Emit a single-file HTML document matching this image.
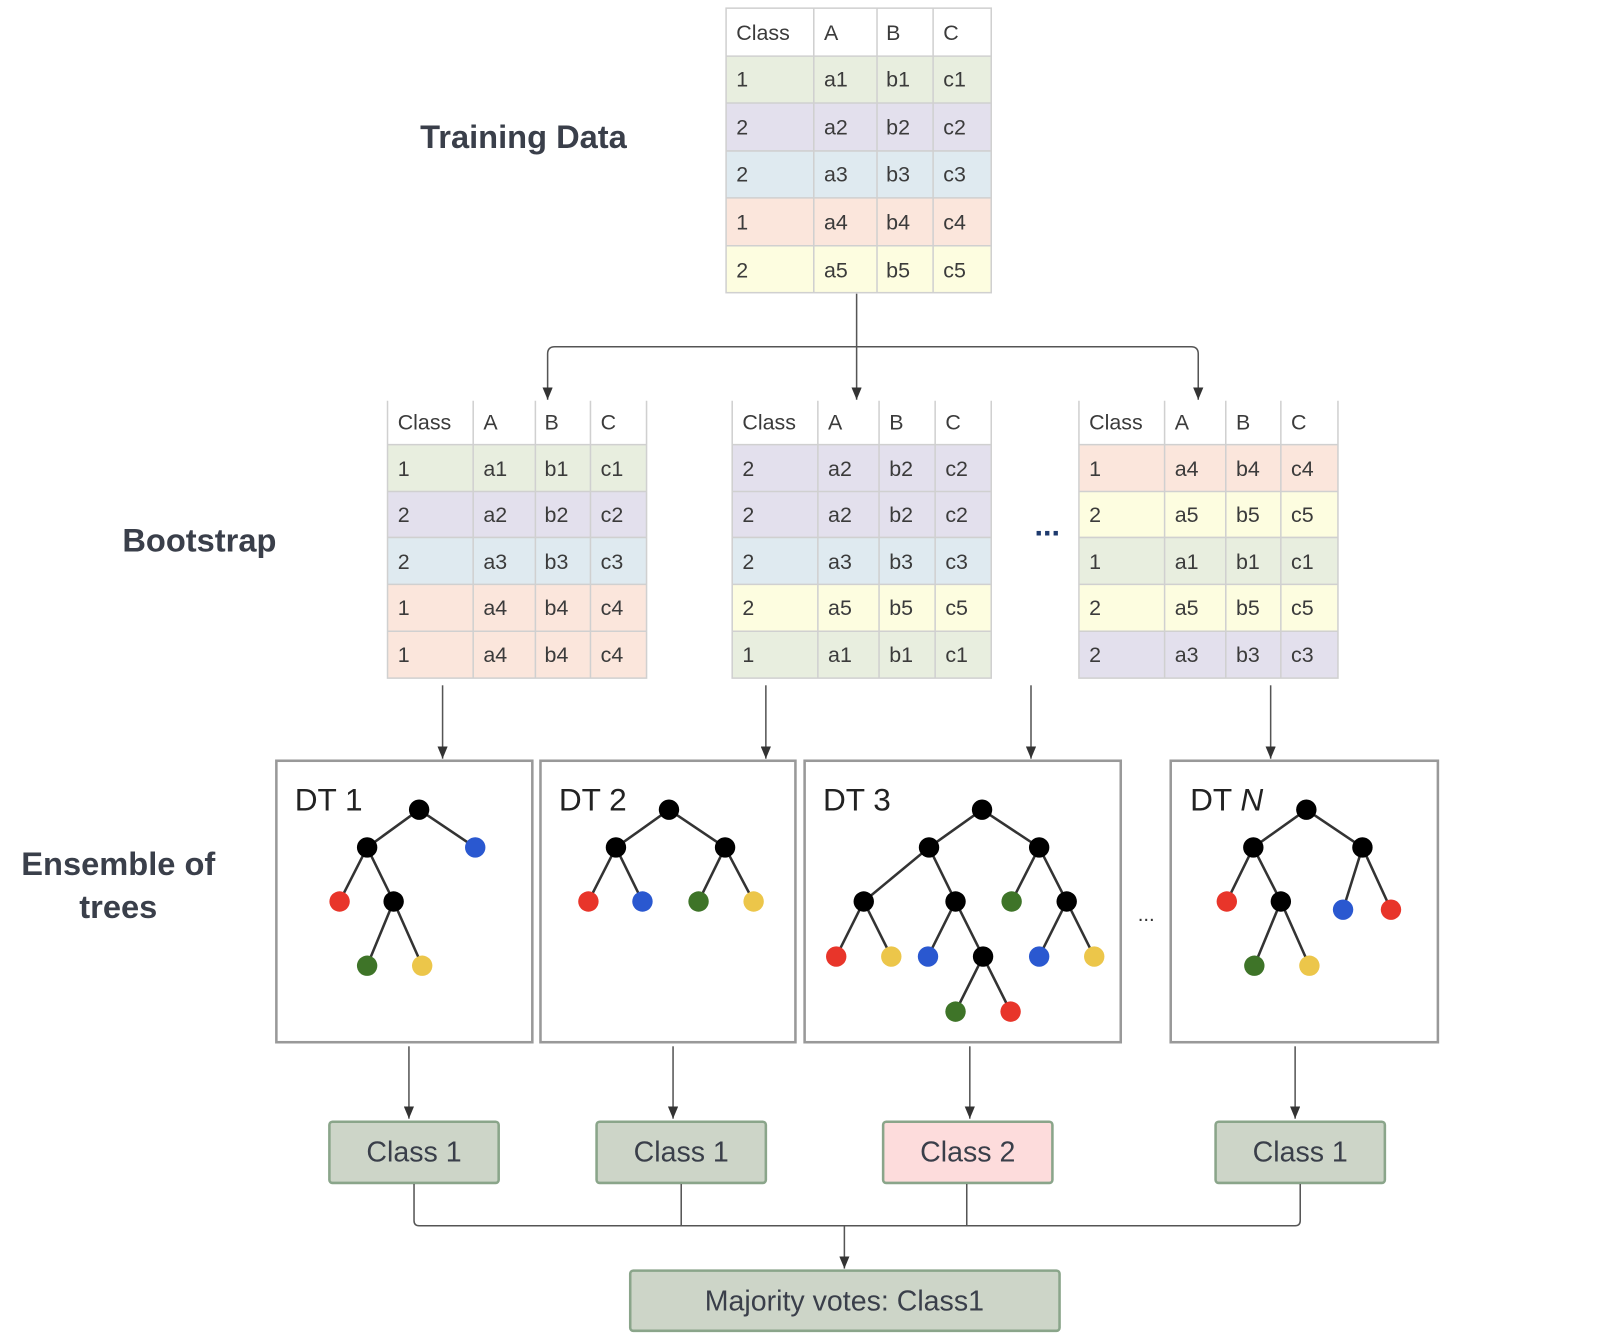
<!DOCTYPE html>
<html><head><meta charset="utf-8"><style>
html,body{margin:0;padding:0;background:#fff;}
svg{display:block;}
text{font-family:"Liberation Sans",sans-serif;}
.t{font-size:21px;fill:#3b3b3b;}
.lbl{font-size:32px;font-weight:bold;fill:#3a3f4a;}
.dt{font-size:31px;fill:#222;}
.cls{font-size:28px;fill:#3a3f4a;text-anchor:middle;}
.ln{stroke:#555;stroke-width:1.5;fill:none;}
.tr{stroke:#333;stroke-width:2.5;}
.g{fill:#e8eedf}.p{fill:#e3e0ed}.b{fill:#dfeaf0}.o{fill:#fbe6dc}.y{fill:#fdfde0}
</style></head><body>
<svg width="1598" height="1340" viewBox="0 0 1567 1314" preserveAspectRatio="none" xmlns="http://www.w3.org/2000/svg">
<defs>
<marker id="d" markerWidth="10" markerHeight="12" refX="5" refY="12" markerUnits="userSpaceOnUse" viewBox="0 0 10 12"><path d="M0,0 L10,0 L5,12z" fill="#333"/></marker></defs>

<text class="lbl" x="412" y="145">Training Data</text>
<text class="lbl" x="120" y="541">Bootstrap</text>
<text class="lbl" x="116" y="858" text-anchor="middle">Ensemble of</text>
<text class="lbl" x="116" y="900" text-anchor="middle">trees</text>

<g>
<rect x="712" y="8" width="260" height="47" fill="#fff"/>
<rect class="g" x="712" y="55" width="260" height="46"/>
<rect class="p" x="712" y="101" width="260" height="47"/>
<rect class="b" x="712" y="148" width="260" height="46"/>
<rect class="o" x="712" y="194" width="260" height="47"/>
<rect class="y" x="712" y="241" width="260" height="46"/>
<g stroke="#d0d0d0" stroke-width="1.5" fill="none">
<rect x="712" y="8" width="260" height="279"/>
<path d="M712 55H972M712 101H972M712 148H972M712 194H972M712 241H972M798 8V287M860 8V287M915 8V287"/>
</g>
<g class="t">
<text x="722" y="39">Class</text><text x="808" y="39">A</text><text x="869" y="39">B</text><text x="925" y="39">C</text>
<text x="722" y="85">1</text><text x="808" y="85">a1</text><text x="869" y="85">b1</text><text x="925" y="85">c1</text>
<text x="722" y="132">2</text><text x="808" y="132">a2</text><text x="869" y="132">b2</text><text x="925" y="132">c2</text>
<text x="722" y="178">2</text><text x="808" y="178">a3</text><text x="869" y="178">b3</text><text x="925" y="178">c3</text>
<text x="722" y="225">1</text><text x="808" y="225">a4</text><text x="869" y="225">b4</text><text x="925" y="225">c4</text>
<text x="722" y="272">2</text><text x="808" y="272">a5</text><text x="869" y="272">b5</text><text x="925" y="272">c5</text>
</g></g>

<path class="ln" d="M840 288V340"/>
<path class="ln" d="M840 340H544Q537 340 537 347V392" marker-end="url(#d)"/>
<path class="ln" d="M840 340V392" marker-end="url(#d)"/>
<path class="ln" d="M840 340H1168Q1175 340 1175 347V392" marker-end="url(#d)"/>

<g>
<rect x="380" y="393" width="254" height="43" fill="#fff"/>
<rect class="g" x="380" y="436" width="254" height="46"/>
<rect class="p" x="380" y="482" width="254" height="45"/>
<rect class="b" x="380" y="527" width="254" height="46"/>
<rect class="o" x="380" y="573" width="254" height="92"/>
<g stroke="#d0d0d0" stroke-width="1.5" fill="none">
<path d="M380 393V665H634V393M380 436H634M380 482H634M380 527H634M380 573H634M380 619H634M464 393V665M525 393V665M579 393V665"/>
</g>
<g class="t">
<text x="390" y="421">Class</text><text x="474" y="421">A</text><text x="534" y="421">B</text><text x="589" y="421">C</text>
<text x="390" y="467">1</text><text x="474" y="467">a1</text><text x="534" y="467">b1</text><text x="589" y="467">c1</text>
<text x="390" y="512">2</text><text x="474" y="512">a2</text><text x="534" y="512">b2</text><text x="589" y="512">c2</text>
<text x="390" y="558">2</text><text x="474" y="558">a3</text><text x="534" y="558">b3</text><text x="589" y="558">c3</text>
<text x="390" y="603">1</text><text x="474" y="603">a4</text><text x="534" y="603">b4</text><text x="589" y="603">c4</text>
<text x="390" y="649">1</text><text x="474" y="649">a4</text><text x="534" y="649">b4</text><text x="589" y="649">c4</text>
</g></g>

<g>
<rect x="718" y="393" width="254" height="43" fill="#fff"/>
<rect class="p" x="718" y="436" width="254" height="91"/>
<rect class="b" x="718" y="527" width="254" height="46"/>
<rect class="y" x="718" y="573" width="254" height="46"/>
<rect class="g" x="718" y="619" width="254" height="46"/>
<g stroke="#d0d0d0" stroke-width="1.5" fill="none">
<path d="M718 393V665H972V393M718 436H972M718 482H972M718 527H972M718 573H972M718 619H972M802 393V665M862 393V665M917 393V665"/>
</g>
<g class="t">
<text x="728" y="421">Class</text><text x="812" y="421">A</text><text x="872" y="421">B</text><text x="927" y="421">C</text>
<text x="728" y="467">2</text><text x="812" y="467">a2</text><text x="872" y="467">b2</text><text x="927" y="467">c2</text>
<text x="728" y="512">2</text><text x="812" y="512">a2</text><text x="872" y="512">b2</text><text x="927" y="512">c2</text>
<text x="728" y="558">2</text><text x="812" y="558">a3</text><text x="872" y="558">b3</text><text x="927" y="558">c3</text>
<text x="728" y="603">2</text><text x="812" y="603">a5</text><text x="872" y="603">b5</text><text x="927" y="603">c5</text>
<text x="728" y="649">1</text><text x="812" y="649">a1</text><text x="872" y="649">b1</text><text x="927" y="649">c1</text>
</g></g>

<text x="1027" y="525" font-size="30" font-weight="bold" fill="#1e3a6e" text-anchor="middle">...</text>

<g>
<rect x="1058" y="393" width="254" height="43" fill="#fff"/>
<rect class="o" x="1058" y="436" width="254" height="46"/>
<rect class="y" x="1058" y="482" width="254" height="45"/>
<rect class="g" x="1058" y="527" width="254" height="46"/>
<rect class="y" x="1058" y="573" width="254" height="46"/>
<rect class="p" x="1058" y="619" width="254" height="46"/>
<g stroke="#d0d0d0" stroke-width="1.5" fill="none">
<path d="M1058 393V665H1312V393M1058 436H1312M1058 482H1312M1058 527H1312M1058 573H1312M1058 619H1312M1142 393V665M1202 393V665M1256 393V665"/>
</g>
<g class="t">
<text x="1068" y="421">Class</text><text x="1152" y="421">A</text><text x="1212" y="421">B</text><text x="1266" y="421">C</text>
<text x="1068" y="467">1</text><text x="1152" y="467">a4</text><text x="1212" y="467">b4</text><text x="1266" y="467">c4</text>
<text x="1068" y="512">2</text><text x="1152" y="512">a5</text><text x="1212" y="512">b5</text><text x="1266" y="512">c5</text>
<text x="1068" y="558">1</text><text x="1152" y="558">a1</text><text x="1212" y="558">b1</text><text x="1266" y="558">c1</text>
<text x="1068" y="603">2</text><text x="1152" y="603">a5</text><text x="1212" y="603">b5</text><text x="1266" y="603">c5</text>
<text x="1068" y="649">2</text><text x="1152" y="649">a3</text><text x="1212" y="649">b3</text><text x="1266" y="649">c3</text>
</g></g>

<path class="ln" d="M434 672V744" marker-end="url(#d)"/>
<path class="ln" d="M751 672V744" marker-end="url(#d)"/>
<path class="ln" d="M1011 672V744" marker-end="url(#d)"/>
<path class="ln" d="M1246 672V744" marker-end="url(#d)"/>

<g fill="#fff" stroke="#999" stroke-width="2.5">
<rect x="271" y="746" width="251" height="276"/>
<rect x="530" y="746" width="250" height="276"/>
<rect x="789" y="746" width="310" height="276"/>
<rect x="1148" y="746" width="262" height="276"/>
</g>
<text class="dt" x="289" y="795">DT 1</text>
<text class="dt" x="548" y="795">DT 2</text>
<text class="dt" x="807" y="795">DT 3</text>
<text class="dt" x="1167" y="795">DT <tspan font-style="italic">N</tspan></text>
<text x="1124" y="903" font-size="20" fill="#333" text-anchor="middle">...</text>

<g class="tr">
<path d="M411 794L360 831M411 794L466 831M360 831L333 884M360 831L386 884M386 884L360 947M386 884L414 947"/>
<path d="M656 794L604 831M656 794L711 831M604 831L577 884M604 831L630 884M711 831L685 884M711 831L739 884"/>
<path d="M963 794L911 831M963 794L1019 831M911 831L847 884M911 831L937 884M1019 831L992 884M1019 831L1046 884M847 884L820 938M847 884L874 938M937 884L910 938M937 884L964 938M964 938L937 992M964 938L991 992M1046 884L1019 938M1046 884L1073 938"/>
<path d="M1281 794L1229 831M1281 794L1336 831M1229 831L1203 884M1229 831L1256 884M1256 884L1230 947M1256 884L1284 947M1336 831L1317 892M1336 831L1364 892"/>
</g>
<g>
<g fill="#000">
<circle cx="411" cy="794" r="10"/><circle cx="360" cy="831" r="10"/><circle cx="386" cy="884" r="10"/>
<circle cx="656" cy="794" r="10"/><circle cx="604" cy="831" r="10"/><circle cx="711" cy="831" r="10"/>
<circle cx="963" cy="794" r="10"/><circle cx="911" cy="831" r="10"/><circle cx="1019" cy="831" r="10"/><circle cx="847" cy="884" r="10"/><circle cx="937" cy="884" r="10"/><circle cx="1046" cy="884" r="10"/><circle cx="964" cy="938" r="10"/>
<circle cx="1281" cy="794" r="10"/><circle cx="1229" cy="831" r="10"/><circle cx="1336" cy="831" r="10"/><circle cx="1256" cy="884" r="10"/>
</g>
<g fill="#e8352a"><circle cx="333" cy="884" r="10"/><circle cx="577" cy="884" r="10"/><circle cx="820" cy="938" r="10"/><circle cx="991" cy="992" r="10"/><circle cx="1203" cy="884" r="10"/><circle cx="1364" cy="892" r="10"/></g>
<g fill="#2a58d0"><circle cx="466" cy="831" r="10"/><circle cx="630" cy="884" r="10"/><circle cx="910" cy="938" r="10"/><circle cx="1019" cy="938" r="10"/><circle cx="1317" cy="892" r="10"/></g>
<g fill="#3e7428"><circle cx="360" cy="947" r="10"/><circle cx="685" cy="884" r="10"/><circle cx="992" cy="884" r="10"/><circle cx="937" cy="992" r="10"/><circle cx="1230" cy="947" r="10"/></g>
<g fill="#ecc64a"><circle cx="414" cy="947" r="10"/><circle cx="739" cy="884" r="10"/><circle cx="874" cy="938" r="10"/><circle cx="1073" cy="938" r="10"/><circle cx="1284" cy="947" r="10"/></g>
</g>

<path class="ln" d="M401 1026V1097" marker-end="url(#d)"/>
<path class="ln" d="M660 1026V1097" marker-end="url(#d)"/>
<path class="ln" d="M951 1026V1097" marker-end="url(#d)"/>
<path class="ln" d="M1270 1026V1097" marker-end="url(#d)"/>

<g stroke="#8aa58a" stroke-width="2.5">
<rect x="323" y="1100" width="166" height="60" rx="3" fill="#cdd5c8"/>
<rect x="585" y="1100" width="166" height="60" rx="3" fill="#cdd5c8"/>
<rect x="866" y="1100" width="166" height="60" rx="3" fill="#fddcdc"/>
<rect x="1192" y="1100" width="166" height="60" rx="3" fill="#cdd5c8"/>
<rect x="618" y="1246" width="421" height="59" rx="3" fill="#cdd5c8"/>
</g>
<text class="cls" x="406" y="1139">Class 1</text>
<text class="cls" x="668" y="1139">Class 1</text>
<text class="cls" x="949" y="1139">Class 2</text>
<text class="cls" x="1275" y="1139">Class 1</text>
<text class="cls" x="828" y="1285">Majority votes: Class1</text>

<path class="ln" d="M406 1161V1197Q406 1202 411 1202H1270Q1275 1202 1275 1197V1161"/>
<path class="ln" d="M668 1161V1202M948 1161V1202"/>
<path class="ln" d="M828 1202V1244" marker-end="url(#d)"/>
</svg>
</body></html>
